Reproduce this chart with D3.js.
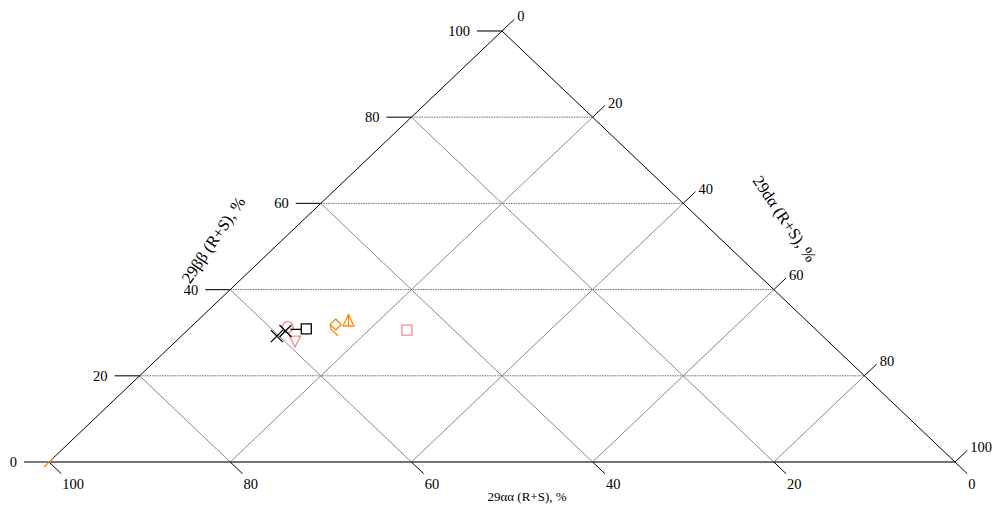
<!DOCTYPE html>
<html><head><meta charset="utf-8">
<script src="https://cdn.jsdelivr.net/npm/d3@7"></script>
<style>body{margin:0;background:#fff}svg{display:block}text{font-family:"Liberation Serif","DejaVu Serif",serif;font-size:14.5px;fill:#000}</style>
</head><body><svg id="c" width="995" height="509"></svg>
<script>
// ---- data ----
const tickValues = [0, 20, 40, 60, 80, 100];
const axisTitles = ["29αα (R+S), %", "29ββ (R+S), %", "29dα (R+S), %"];
const pointAA = [60.25, 58.7, 56.15, 58.0, 58.7, 45.2, 52.4, 50.65, 100];
const pointBB = [29.2, 30.4, 30.9, 31.3, 28.3, 30.6, 31.9, 32.6, 0];
const pointDA = [10.55, 10.9, 12.95, 10.7, 13.0, 24.2, 15.7, 16.75, 0];
const pointSymbol = ["cross", "cross", "squareTail", "circle", "triangleDown", "square", "diamondTail", "triangleBar", "slash"];
const pointGroup = ["black", "black", "black", "pink", "pink", "pink", "orange", "orange", "orange"];

const groupColor = {black: "#000", pink: "#f28b8b", orange: "#ff8c00"};

const svg = d3.select("#c");
const sx = d3.scaleLinear().domain([0, 100]).range([49, 955]); // horizontal: d + b/2
const sy = d3.scaleLinear().domain([0, 100]).range([462, 31]); // ββ
function pt(a, b, d) { return [sx(d + b / 2), sy(b)]; }

const g = svg.append("g");
const inner = tickValues.filter(v => v > 0 && v < 100);

g.selectAll(".gh").data(inner).join("line")
  .attr("x1", v => pt(100 - v, v, 0)[0]).attr("y1", v => pt(100 - v, v, 0)[1])
  .attr("x2", v => pt(0, v, 100 - v)[0]).attr("y2", v => pt(0, v, 100 - v)[1])
  .attr("stroke", "#444").attr("stroke-width", 0.8).attr("stroke-dasharray", "1.5,1");
g.selectAll(".ga").data(inner).join("line")
  .attr("x1", v => pt(v, 100 - v, 0)[0]).attr("y1", v => pt(v, 100 - v, 0)[1])
  .attr("x2", v => pt(v, 0, 100 - v)[0]).attr("y2", v => pt(v, 0, 100 - v)[1])
  .attr("stroke", "#8a8a8a").attr("stroke-width", 1);
g.selectAll(".gd").data(inner).join("line")
  .attr("x1", v => pt(100 - v, 0, v)[0]).attr("y1", v => pt(100 - v, 0, v)[1])
  .attr("x2", v => pt(0, 100 - v, v)[0]).attr("y2", v => pt(0, 100 - v, v)[1])
  .attr("stroke", "#8a8a8a").attr("stroke-width", 1);

const BL = pt(100, 0, 0), TP = pt(0, 100, 0), BR = pt(0, 0, 100);
g.append("line").attr("x1", BL[0]).attr("y1", BL[1]).attr("x2", BR[0]).attr("y2", BR[1]).attr("stroke", "#444").attr("stroke-width", 1.4);
g.append("line").attr("x1", BL[0]).attr("y1", BL[1]).attr("x2", TP[0]).attr("y2", TP[1]).attr("stroke", "#000").attr("stroke-width", 1);
g.append("line").attr("x1", TP[0]).attr("y1", TP[1]).attr("x2", BR[0]).attr("y2", BR[1]).attr("stroke", "#000").attr("stroke-width", 1);

const L = 17;
const len = Math.hypot(453, 431);
const ux = 453 / len * L, uy = 431 / len * L;
tickValues.forEach(v => {
  const p = pt(100 - v, v, 0);
  g.append("line").attr("x1", p[0] - 25).attr("y1", p[1]).attr("x2", p[0]).attr("y2", p[1]).attr("stroke", "#222").attr("stroke-width", 1.2);
  g.append("text").attr("x", p[0] - 32).attr("y", p[1]).attr("dy", "0.35em").attr("text-anchor", "end").text(v);
});
tickValues.forEach(v => {
  const p = pt(v, 0, 100 - v);
  g.append("line").attr("x1", p[0]).attr("y1", p[1]).attr("x2", p[0] + ux).attr("y2", p[1] + uy).attr("stroke", "#000");
  g.append("text").attr("x", p[0] + ux + 1).attr("y", p[1] + uy + 15).text(v);
});
tickValues.forEach(v => {
  const q = pt(0, 100 - v, v);
  g.append("line").attr("x1", q[0]).attr("y1", q[1]).attr("x2", q[0] + ux).attr("y2", q[1] - uy).attr("stroke", "#000");
  g.append("text").attr("x", q[0] + ux + 3).attr("y", q[1] - uy - 3).attr("dy", "0.35em").text(v);
});

const ang = 56;
g.append("text").attr("x", 527).attr("y", 501).attr("text-anchor", "middle").style("font-size", "13px").text(axisTitles[0]);
g.append("text").attr("transform", `translate(218,243) rotate(${-ang})`).attr("text-anchor", "middle").style("font-size", "16.5px").text(axisTitles[1]);
g.append("text").attr("transform", `translate(780,222) rotate(${ang})`).attr("text-anchor", "middle").style("font-size", "16.5px").text(axisTitles[2]);

function symbolPath(s) {
  switch (s) {
    case "cross": return "M-6,-6L6,6M-6,6L6,-6";
    case "square": return "M-5,-5H5V5H-5Z";
    case "squareTail": return "M-5,-5H5V5H-5ZM-5,0.5H-16";
    case "circle": return "M5.5,0A5.5,5.5 0 1,1 -5.5,0A5.5,5.5 0 1,1 5.5,0Z";
    case "triangleDown": return "M-5.5,-4H5.5L0,7Z";
    case "diamondTail": return "M0,-5.5L5.5,0L0,5.5L-5.5,0ZM-5.5,0L-4.5,5L2.5,11.5";
    case "triangleBar": return "M0,-7L5.5,4.5H-5.5ZM0,-5V4.5";
    case "slash": return "M-5,5L5,-4.5";
  }
}
const pts = pointAA.map((a, i) => ({a, b: pointBB[i], d: pointDA[i], s: pointSymbol[i], c: groupColor[pointGroup[i]]}));
const order = [3, 4, 5, 6, 7, 8, 0, 1, 2];
g.selectAll(".pt").data(order.map(i => pts[i])).join("path")
  .attr("transform", p => { const q = pt(p.a, p.b, p.d); return `translate(${q[0]},${q[1]})`; })
  .attr("d", p => symbolPath(p.s))
  .attr("fill", "none").attr("stroke", p => p.c).attr("stroke-width", 1.3);
</script></body></html>
